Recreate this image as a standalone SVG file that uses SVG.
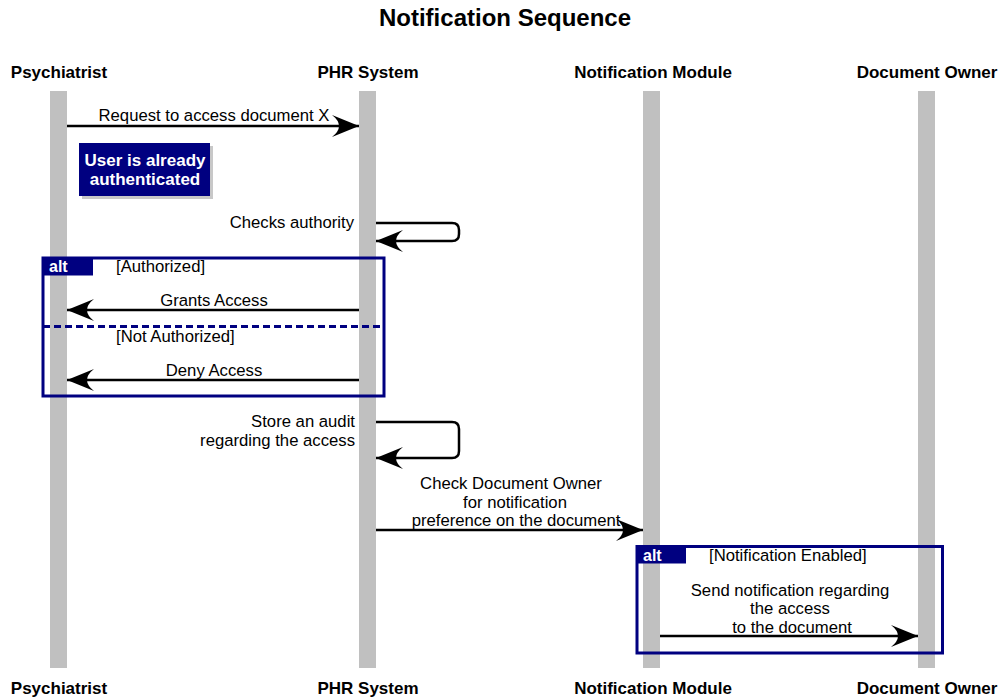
<svg xmlns="http://www.w3.org/2000/svg" width="1005" height="698" viewBox="0 0 1005 698">
  <style>
    .title { font: bold 24px "Liberation Sans", Arial, sans-serif; fill: #000; text-anchor: middle; }
    .actor { font: bold 17px "Liberation Sans", Arial, sans-serif; fill: #000; text-anchor: middle; }
    .msg { font: 16.7px "Liberation Sans", Arial, sans-serif; fill: #000; }
    .life { fill: #c0c0c0; }
    .line { fill: none; stroke: #000; stroke-width: 2.5; }
    .frame { fill: none; stroke: #000080; stroke-width: 3; }
    .tab { fill: #000080; }
    .tabtxt { font: bold 16px "Liberation Sans", Arial, sans-serif; fill: #fff; }
    .guard { font: 16.7px "Liberation Sans", Arial, sans-serif; fill: #000; }
    .note { fill: #000080; }
    .noteshadow { fill: #c8c8c8; }
    .notetxt { font: bold 17px "Liberation Sans", Arial, sans-serif; fill: #fff; text-anchor: middle; }
  </style>
  <defs>
    <marker id="arrow" viewBox="-28 -12 30 24" refX="0" refY="0" markerWidth="30" markerHeight="24" markerUnits="userSpaceOnUse" orient="auto">
      <path d="M0,0 L-27,-11 Q-13,0 -27,11 Z" fill="#000"/>
    </marker>
  </defs>

  <rect width="1005" height="698" fill="#fff"/>
  <text class="title" x="505" y="26">Notification Sequence</text>

  <!-- participants: header, lifeline, footer -->
  <g id="psychiatrist">
    <text class="actor" x="59" y="78">Psychiatrist</text>
    <rect class="life" x="50" y="91" width="17" height="577"/>
    <text class="actor" x="59" y="694">Psychiatrist</text>
  </g>
  <g id="phr-system">
    <text class="actor" x="368" y="78">PHR System</text>
    <rect class="life" x="359" y="91" width="17" height="577"/>
    <text class="actor" x="368" y="694">PHR System</text>
  </g>
  <g id="notification-module">
    <text class="actor" x="653" y="78">Notification Module</text>
    <rect class="life" x="643" y="91" width="17" height="577"/>
    <text class="actor" x="653" y="694">Notification Module</text>
  </g>
  <g id="document-owner">
    <text class="actor" x="927" y="78">Document Owner</text>
    <rect class="life" x="918" y="91" width="17" height="577"/>
    <text class="actor" x="927" y="694">Document Owner</text>
  </g>

  <!-- note -->
  <g id="note-authenticated">
    <rect class="noteshadow" x="82" y="146" width="131" height="53"/>
    <rect class="note" x="79" y="143" width="131" height="53"/>
    <text class="notetxt" x="145" y="166">User is already</text>
    <text class="notetxt" x="145" y="185">authenticated</text>
  </g>

  <!-- combined fragments -->
  <g id="alt-authorized">
    <rect class="frame" x="43" y="258" width="341" height="138"/>
    <path class="tab" d="M43,258 H93 V275.5 H43 Z"/>
    <text class="tabtxt" x="49" y="272">alt</text>
    <text class="guard" x="116" y="272">[Authorized]</text>
    <line x1="43" y1="326.5" x2="384" y2="326.5" stroke="#000080" stroke-width="3" stroke-dasharray="7,4"/>
    <text class="guard" x="116" y="342">[Not Authorized]</text>
  </g>
  <g id="alt-notification">
    <rect class="frame" x="637" y="546.5" width="305.5" height="106.5"/>
    <path class="tab" d="M637,546.5 H686 V563.5 H637 Z"/>
    <text class="tabtxt" x="643" y="561">alt</text>
    <text class="guard" x="709" y="561">[Notification Enabled]</text>
  </g>

  <!-- messages -->
  <g id="connectors">
    <line class="line" x1="67" y1="126" x2="359" y2="126" marker-end="url(#arrow)"/>
    <text class="msg" x="214" y="121" text-anchor="middle">Request to access document X</text>

    <path class="line" d="M376,223 H452 Q459,223 459,230 V234 Q459,241 452,241 H376" marker-end="url(#arrow)"/>
    <text class="msg" x="354" y="228" text-anchor="end">Checks authority</text>

    <line class="line" x1="359" y1="310" x2="67" y2="310" marker-end="url(#arrow)"/>
    <text class="msg" x="214" y="306" text-anchor="middle">Grants Access</text>

    <line class="line" x1="359" y1="380" x2="67" y2="380" marker-end="url(#arrow)"/>
    <text class="msg" x="214" y="376" text-anchor="middle">Deny Access</text>

    <path class="line" d="M376,422 H452 Q459,422 459,429 V451 Q459,458 452,458 H376" marker-end="url(#arrow)"/>
    <text class="msg" x="355" y="427" text-anchor="end">Store an audit</text>
    <text class="msg" x="355" y="446" text-anchor="end">regarding the access</text>

    <line class="line" x1="376" y1="530" x2="643" y2="530" marker-end="url(#arrow)"/>
    <text class="msg" x="511" y="489" text-anchor="middle">Check Document Owner</text>
    <text class="msg" x="515" y="508" text-anchor="middle">for notification</text>
    <text class="msg" x="516" y="526" text-anchor="middle">preference on the document</text>

    <line class="line" x1="660" y1="636" x2="918" y2="636" marker-end="url(#arrow)"/>
    <text class="msg" x="790" y="596" text-anchor="middle">Send notification regarding</text>
    <text class="msg" x="790" y="614" text-anchor="middle">the access</text>
    <text class="msg" x="792" y="633" text-anchor="middle">to the document</text>
  </g>
</svg>
